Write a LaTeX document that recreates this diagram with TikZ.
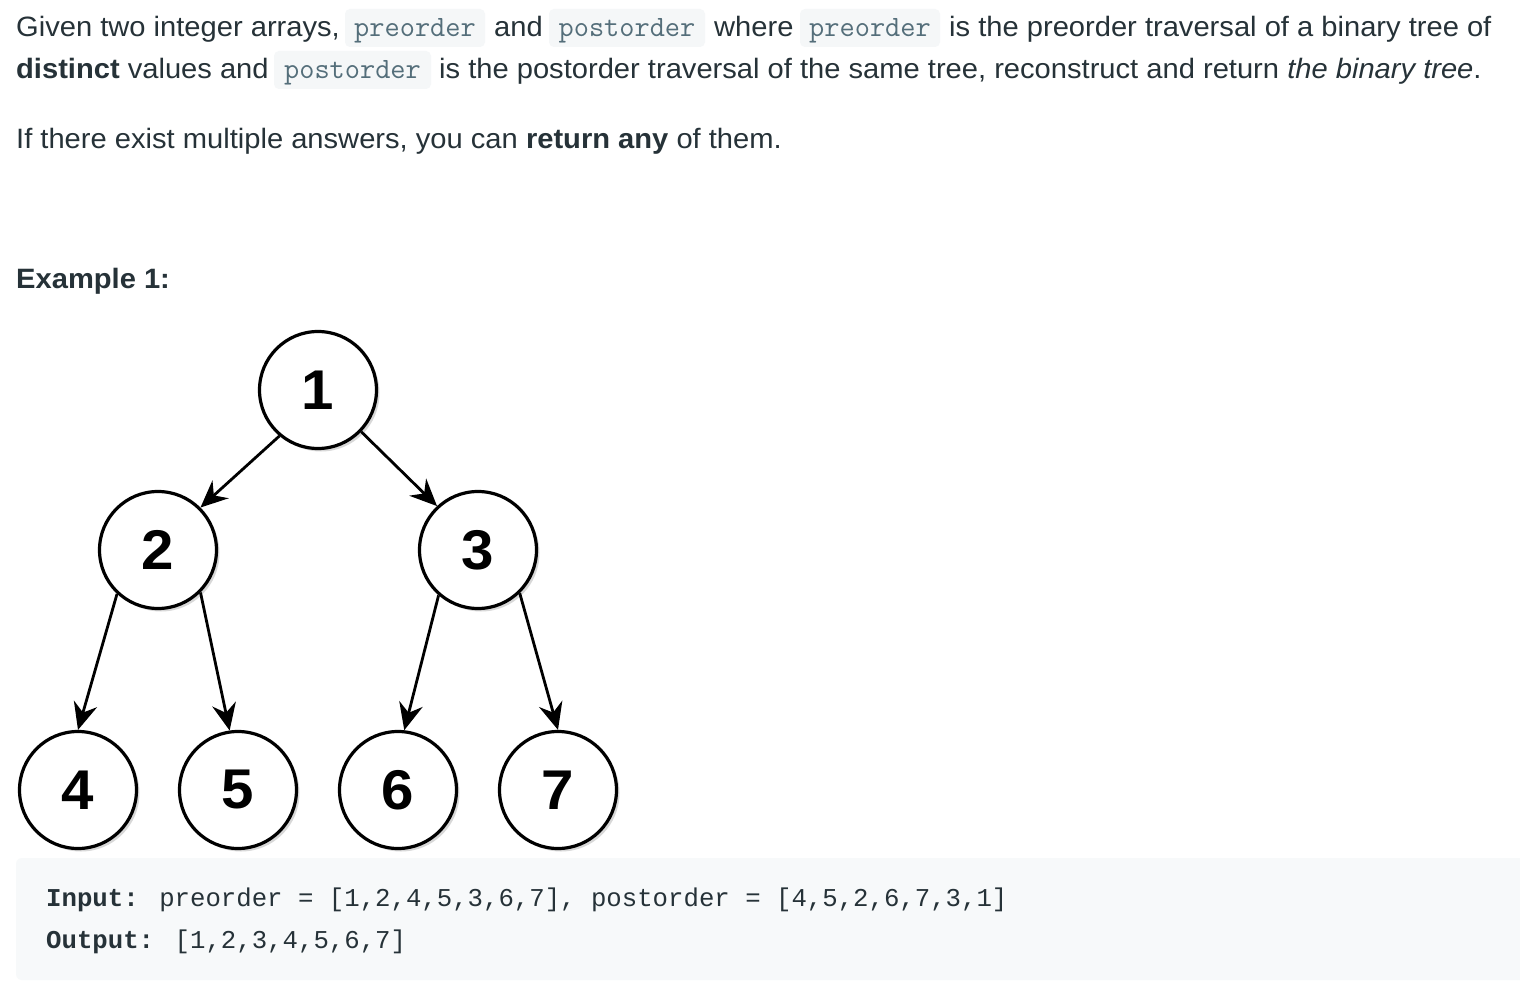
\documentclass[tikz,border=0pt]{standalone}
\usepackage{fontspec}
\setmainfont[FakeStretch=1.04]{Liberation Sans}
\newfontfamily\codefont{Liberation Mono}
\usetikzlibrary{arrows.meta,shadows}
\definecolor{txt}{HTML}{263238}
\definecolor{chipbg}{HTML}{F5F7F8}
\definecolor{chiptxt}{HTML}{546E7A}
\definecolor{codebg}{HTML}{F7F9FA}
\begin{document}
\begin{tikzpicture}[x=1pt,y=-1pt,
  body/.style={anchor=base west, inner sep=0pt, text=txt, font=\fontsize{28}{32}\selectfont},
  chip/.style={fill=chipbg, rounded corners=5pt, inner sep=0pt, minimum height=38pt, text=chiptxt,
    font=\ttfamily\fontsize{29.5}{32}\selectfont, text height=22pt, text depth=4pt},
  tnode/.style={circle, draw=black, line width=3.2pt, fill=white, minimum size=117pt, inner sep=0pt,
    font=\fontsize{56}{60}\selectfont\bfseries,
    drop shadow={opacity=0.3, shadow xshift=3pt, shadow yshift=-3pt}},
  edge/.style={line width=2.8pt, -{Stealth[length=27pt,width=24pt,inset=9pt]}},
  code/.style={anchor=base west, inner sep=0pt, text=txt, font=\codefont\fontsize{25.7}{30}\selectfont}]
\fill[white] (0,0) rectangle (1520,984);
\useasboundingbox (0,0) rectangle (1520,984);

% paragraph line 1
\node[body] (t1a) at (16,37) {Given two integer arrays,};
\node[chip, minimum width=140pt] (c1) at (415,28) {preorder};
\node[body] (t1b) at (494,37) {and};
\node[chip, minimum width=156pt] (c2) at (627,28) {postorder};
\node[body] (t1c) at (714,37) {where};
\node[chip, minimum width=140pt] (c3) at (870,28) {preorder};
\node[body] (t1d) at (949,37) {is the preorder traversal of a binary tree of};
% line 2
\node[body] (t2a) at (16,79) {\textbf{distinct} values and};
\node[chip, minimum width=157pt] (c4) at (352.5,70) {postorder};
\node[body] (t2b) at (439,79) {is the postorder traversal of the same tree, reconstruct and return \textit{the binary tree}.};
% line 3
\node[body] (t3) at (16,149) {If there exist multiple answers, you can \textbf{return any} of them.};
\node[body] (ex) at (16,289) {\textbf{Example 1:}};

% tree
\node[tnode] (n1) at (318,390) {1};
\node[tnode] (n2) at (158,550) {2};
\node[tnode] (n3) at (478,550) {3};
\node[tnode] (n4) at (78,790) {4};
\node[tnode] (n5) at (238,790) {5};
\node[tnode] (n6) at (398,790) {6};
\node[tnode] (n7) at (558,790) {7};

\draw[edge] (n1.230) -- (n2.45);
\draw[edge] (n1.316) -- (n3.133);
\draw[edge] (n2.227) -- (n4.north);
\draw[edge] (n2.315) -- (n5.98);
\draw[edge] (n3.229) -- (n6.84);
\draw[edge] (n3.314) -- (n7.north);

% code block
\fill[codebg, rounded corners=6pt] (16,858) rectangle (1526,980);
\node[code] (in) at (46,906) {\textbf{Input:} preorder = [1,2,4,5,3,6,7], postorder = [4,5,2,6,7,3,1]};
\node[code] (out) at (46,948) {\textbf{Output:} [1,2,3,4,5,6,7]};
\end{tikzpicture}
\end{document}
